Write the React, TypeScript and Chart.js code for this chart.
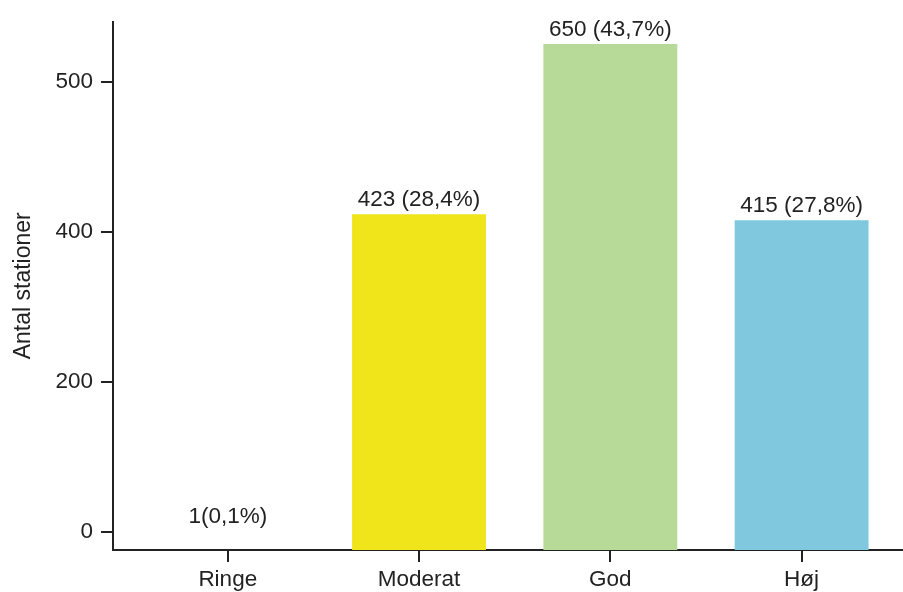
import React, { useEffect, useRef } from "react";
import { Chart, registerables } from "chart.js";

Chart.register(...registerables);

// Station counts per class
const categories = ["Ringe", "Moderat", "God", "Høj"];
const values = [1, 423, 650, 415];
const valueLabels = ["1(0,1%)", "423 (28,4%)", "650 (43,7%)", "415 (27,8%)"];
const barColors = ["rgba(0,0,0,0)", "#F0E41A", "#B7DA98", "#7FC8DD"];

// Value axis ticks and their printed labels
const yTickValues = [0, 200, 400, 600];
const yTickLabels = ["0", "200", "400", "500"];

// Axis ranges
const Y_MIN = -24.3;
const Y_MAX = 680;
const X_MIN = -0.6;
const X_MAX = 3.53;

const INK = "#222222";
const FONT_FAMILY = "'Liberation Sans', Arial, sans-serif";

const valueLabelPlugin = {
  id: "valueLabels",
  afterDatasetsDraw(chart: any) {
    const { ctx } = chart;
    const meta = chart.getDatasetMeta(0);
    ctx.save();
    ctx.fillStyle = INK;
    ctx.font = `22.5px ${FONT_FAMILY}`;
    ctx.textAlign = "center";
    ctx.textBaseline = "alphabetic";
    meta.data.forEach((bar: any, i: number) => {
      ctx.fillText(valueLabels[i], bar.x, bar.y - 8);
    });
    ctx.restore();
  },
};

export default function App() {
  const canvasRef = useRef<HTMLCanvasElement | null>(null);

  useEffect(() => {
    const canvas = canvasRef.current;
    if (!canvas) return;
    const chart = new Chart(canvas, {
      type: "bar",
      data: {
        datasets: [
          {
            data: categories.map((_, i) => ({ x: i, y: values[i] })),
            backgroundColor: barColors,
            borderWidth: 0,
            base: Y_MIN,
            barPercentage: 0.7,
            categoryPercentage: 1,
          },
        ],
      },
      options: {
        responsive: false,
        animation: false,
        devicePixelRatio: 1,
        layout: { padding: { top: 19, right: 0, left: 0, bottom: 0 } },
        plugins: {
          legend: { display: false },
          tooltip: { enabled: false },
        },
        scales: {
          x: {
            type: "linear",
            min: X_MIN,
            max: X_MAX,
            offset: false,
            afterBuildTicks: (scale: any) => {
              scale.ticks = categories.map((_, i) => ({ value: i }));
            },
            afterFit: (scale: any) => {
              scale.height = 42;
            },
            grid: {
              offset: false,
              drawOnChartArea: false,
              drawTicks: true,
              tickLength: 12,
              color: INK,
              lineWidth: 2,
            },
            border: { display: true, color: INK, width: 2 },
            ticks: {
              padding: 4,
              color: INK,
              font: { size: 22.5, family: FONT_FAMILY },
              maxRotation: 0,
              autoSkip: false,
              callback: (value: any) => categories[value] ?? "",
            },
          },
          y: {
            type: "linear",
            min: Y_MIN,
            max: Y_MAX,
            afterBuildTicks: (scale: any) => {
              scale.ticks = yTickValues.map((v) => ({ value: v }));
            },
            afterFit: (scale: any) => {
              scale.width = 113;
            },
            grid: {
              drawOnChartArea: false,
              drawTicks: true,
              tickLength: 12,
              color: INK,
              lineWidth: 2,
            },
            border: { display: true, color: INK, width: 2 },
            ticks: {
              padding: 8,
              color: INK,
              font: { size: 22.5, family: FONT_FAMILY },
              callback: (value: any) => {
                const idx = yTickValues.indexOf(value);
                return idx >= 0 ? yTickLabels[idx] : "";
              },
            },
            title: {
              display: true,
              text: "Antal stationer",
              color: INK,
              font: { size: 23, family: FONT_FAMILY },
              padding: { top: 10, bottom: 0 },
            },
          },
        },
      },
      plugins: [valueLabelPlugin],
    });
    return () => chart.destroy();
  }, []);

  return (
    <div
      style={{
        position: "fixed",
        left: 0,
        top: 0,
        width: 903,
        height: 592,
        background: "#ffffff",
      }}
    >
      <canvas ref={canvasRef} width={903} height={592} />
    </div>
  );
}
